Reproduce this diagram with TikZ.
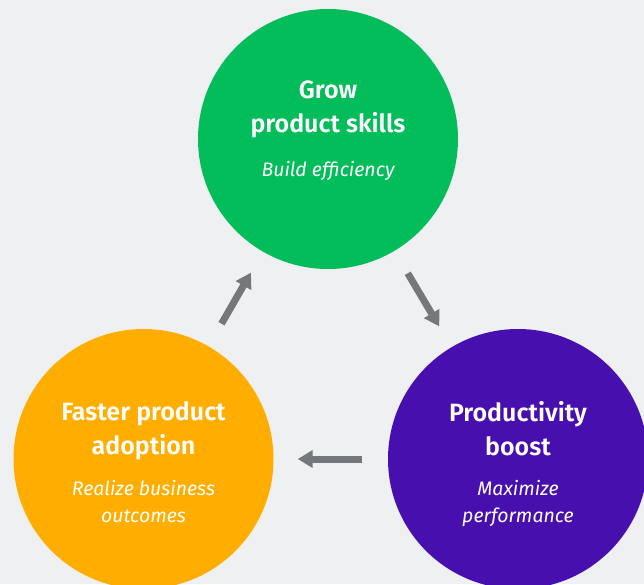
\documentclass[tikz,border=0pt]{standalone}
\usepackage{fontspec}
\setmainfont{Fira Sans}[BoldFont={Fira Sans SemiBold}]
\usetikzlibrary{arrows.meta, positioning}
\definecolor{bgGray}{HTML}{EEF0F2}
\definecolor{growGreen}{HTML}{02BD59}
\definecolor{adoptOrange}{HTML}{FFAE00}
\definecolor{boostPurple}{HTML}{480FAF}
\definecolor{arrowGray}{HTML}{75787B}

\begin{document}
\begin{tikzpicture}[
    x=1pt, y=-1pt,
    >={Triangle[length=15pt, width=17pt]},
    stage/.style={circle, minimum size=260pt, inner sep=0pt},
    title/.style={font=\fontsize{25}{34}\selectfont\bfseries, text=white,
                  align=center, inner sep=0pt, anchor=north},
    subtitle/.style={font=\fontsize{19.5}{27}\selectfont\itshape, text=white,
                     align=center, inner sep=0pt, anchor=north},
    flow/.style={->, draw=arrowGray, line width=7pt,
                 shorten <=26pt, shorten >=24pt}
  ]
  \clip (0,0) rectangle (644,584);
  \fill[bgGray] (0,0) rectangle (644,584);

  % the three stages
  \node[stage, fill=growGreen]   (grow)  at (328,139) {};
  \node[stage, fill=boostPurple] (boost) at (518,459) {};
  \node[stage, fill=adoptOrange] (adopt) at (143.5,459) {};

  \node[title]    (growTitle)  at (328,81)  {Grow\\product skills};
  \node[subtitle] (growSub)    at (328,161) {Build efficiency};
  \node[title]    (boostTitle) at (518,401) {Productivity\\boost};
  \node[subtitle] (boostSub)   at (518,480) {Maximize\\performance};
  \node[title]    (adoptTitle) at (143.5,401) {Faster product\\adoption};
  \node[subtitle] (adoptSub)   at (143.5,480) {Realize business\\outcomes};

  % cycle
  \draw[flow] (grow)  -- (boost);
  \draw[flow] (boost) -- (adopt);
  \draw[flow] (adopt) -- (grow);
\end{tikzpicture}
\end{document}
